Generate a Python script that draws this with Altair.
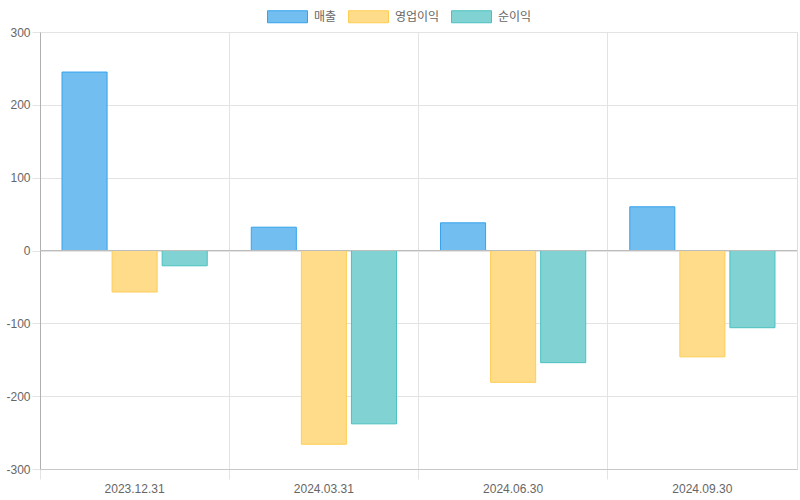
import altair as alt
import pandas as pd

dates = ["2023.12.31", "2024.03.31", "2024.06.30", "2024.09.30"]
series = ["매출", "영업이익", "순이익"]
sales = [245, 32, 38, 60]
op_profit = [-57, -266, -181, -146]
net_profit = [-21, -238, -154, -106]

fills = ["#72BEF1", "#FFDC89", "#81D3D3"]
strokes = ["#36A2EB", "#FFCD56", "#4BC0C0"]

rows = []
for name, vals in zip(series, [sales, op_profit, net_profit]):
    for d, v in zip(dates, vals):
        rows.append({"date": d, "series": name, "value": v})
df = pd.DataFrame(rows)

FONT = "Liberation Sans, Noto Sans CJK KR"
GRID = "#e3e3e3"

legend_kw = dict(
    title=None, orient="none", direction="horizontal", legendX=227, legendY=-36,
    symbolType="M-1,-0.3H1V0.3H-1Z", symbolSize=1600, symbolStrokeWidth=1,
    labelFont=FONT, labelFontSize=12, labelColor="#666666",
    labelOffset=6, columnPadding=9,
)

bars = alt.Chart(df).mark_bar(strokeWidth=1).encode(
    x=alt.X(
        "date:N", sort=dates, title=None,
        scale=alt.Scale(paddingInner=0, paddingOuter=0),
        axis=alt.Axis(
            bandPosition=0, grid=True, gridColor=GRID,
            tickColor=GRID, tickSize=10, domainColor="#c8c8c8",
            labelAngle=0, labelFont=FONT, labelFontSize=12, labelColor="#666666",
            labelPadding=4,
        ),
    ),
    xOffset=alt.XOffset(
        "series:N", sort=series,
        scale=alt.Scale(domain=series, paddingInner=0.1, paddingOuter=0.44),
    ),
    y=alt.Y(
        "value:Q", title=None,
        scale=alt.Scale(domain=[-300, 300], nice=False, zero=False),
        axis=alt.Axis(
            values=[-300, -200, -100, 0, 100, 200, 300], gridColor=GRID,
            tickColor=GRID, tickSize=8, domainColor="#b0b0b0",
            labelExpr="'' + datum.value",
            labelFont=FONT, labelFontSize=12, labelColor="#666666", labelPadding=2,
        ),
    ),
    fill=alt.Fill(
        "series:N", sort=series,
        scale=alt.Scale(domain=series, range=fills),
        legend=alt.Legend(**legend_kw),
    ),
    stroke=alt.Stroke(
        "series:N", sort=series,
        scale=alt.Scale(domain=series, range=strokes),
        legend=alt.Legend(**legend_kw),
    ),
)

zero = alt.Chart(pd.DataFrame({"v": [0]})).mark_rule(color="#bdbdbd", strokeWidth=1).encode(
    y=alt.Y("v:Q")
)

chart = alt.layer(bars, zero).properties(
    width=757, height=437,
    autosize=alt.AutoSizeParams(type="none"),
    padding={"left": 40, "top": 32, "right": 3, "bottom": 31},
).configure_view(stroke=GRID).configure(background="white")

chart.save("out.html", embed_options={"renderer": "svg", "actions": False})
